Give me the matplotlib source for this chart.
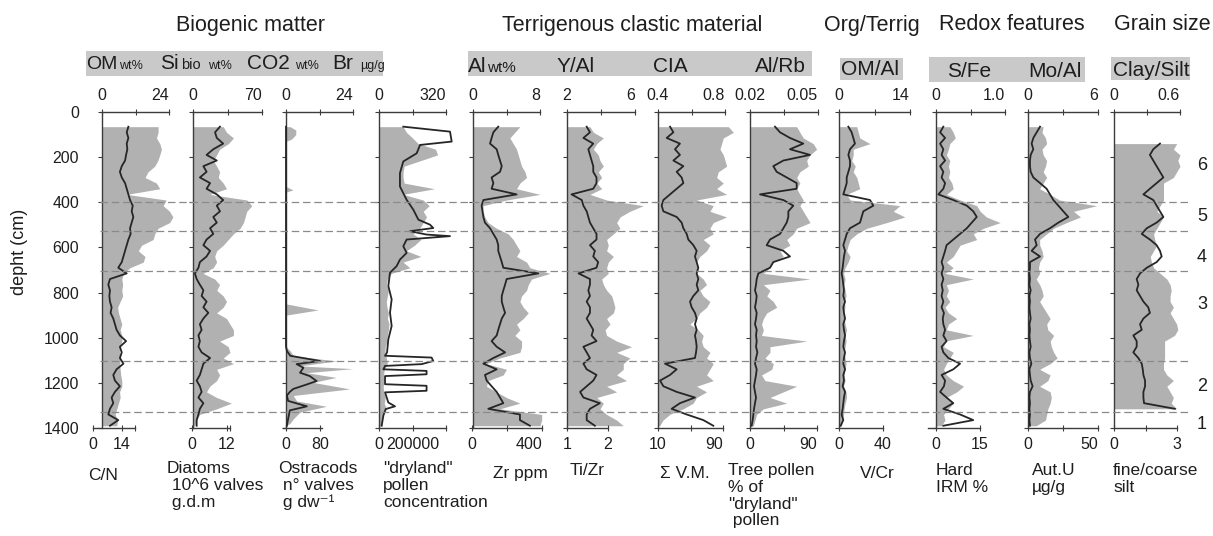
import matplotlib
matplotlib.use("Agg")
import matplotlib.pyplot as plt
from matplotlib.patches import Rectangle
import matplotlib.transforms as mtransforms

plt.rcParams['font.family'] = ['Liberation Sans', 'DejaVu Sans']

# ---------------- data (depth in cm) ----------------
depth = [65, 90, 115, 140, 165, 190, 215, 240, 265, 290, 315, 340, 365, 390, 415, 440, 465, 490,
         515, 540, 565, 590, 615, 640, 665, 690, 715, 740, 765, 790, 815, 840, 865, 890, 915, 940,
         965, 990, 1015, 1040, 1065, 1090, 1115, 1140, 1165, 1190, 1215, 1240, 1265, 1290, 1315,
         1340, 1365, 1390]
depth_ticks = [0, 200, 400, 600, 800, 1000, 1200, 1400]
zone_bounds = [400, 527, 705, 1105, 1327]
zone_labels = ['6', '5', '4', '3', '2', '1']
zone_label_depths = [235, 465, 645, 855, 1215, 1385]

# Biogenic matter
om = [20.1, 20.1, 19.5, 20.7, 21.3, 20.7, 20.0, 18.9, 16.5, 15.4, 19.5, 20.7, 8.9, 23.0, 21.9, 24.2,
      25.4, 24.2, 20.1, 18.9, 18.3, 14.2, 13.0, 15.4, 14.8, 10.0, 7.7, 7.1, 7.4, 7.1, 7.4, 6.5, 5.6,
      5.9, 6.5, 7.1, 6.5, 7.1, 7.1, 6.5, 6.3, 6.7, 6.3, 6.5, 6.7, 7.1, 7.1, 6.3, 6.5, 5.9, 5.3, 4.7,
      5.6, 5.3]
cn = [17.1, 16.3, 17.1, 16.3, 16.6, 16.0, 15.5, 13.9, 13.0, 13.9, 15.5, 16.3, 17.1, 17.9, 19.2, 18.7,
      19.5, 18.7, 17.9, 18.2, 17.1, 16.3, 15.5, 14.7, 13.9, 12.2, 16.3, 8.2, 7.4, 8.2, 7.9, 8.2, 9.0,
      8.5, 9.8, 10.6, 11.4, 13.0, 16.0, 13.0, 13.9, 13.0, 14.7, 11.4, 9.8, 10.6, 13.0, 10.6, 9.0, 9.8,
      8.2, 7.4, 12.2, 8.2]
si_bio = [30.7, 34, 41, 36, 27, 24, 20.5, 24, 27, 25.6, 30.7, 34, 17, 54.6, 59.7, 54.6, 52.9, 51.2,
          47.8, 41, 35.8, 30.7, 24, 22, 24, 20.5, 10.2, 22, 27, 24, 30.7, 34, 30.7, 24, 34, 37.5, 41,
          41, 27, 35.8, 37.5, 30.7, 41, 24, 27, 24, 17, 13.7, 24, 39, 24, 6.8, 3.4, 1.7]
diatoms = [9.6, 7.9, 8.5, 10.7, 7.3, 5.0, 8.5, 3.9, 5.0, 2.7, 6.2, 5.0, 8.5, 10.7, 8.5, 9.6, 7.3, 8.5,
           6.2, 7.3, 5.0, 3.9, 6.2, 5.0, 2.7, 2.2, 1.0, 1.6, 2.7, 3.9, 3.3, 5.0, 3.9, 5.6, 3.9, 2.7,
           3.3, 2.2, 2.7, 2.2, 3.3, 6.2, 3.9, 3.3, 2.7, 1.6, 2.7, 3.3, 2.2, 3.9, 2.7, 2.2, 1.6, 1.6]
co2_depth = [65, 80, 100, 120, 130, 330, 345, 355, 850, 877, 900, 1040, 1058, 1080, 1103, 1125, 1137,
             1155, 1176, 1198, 1227, 1256, 1280, 1304, 1330, 1360, 1380, 1390]
co2 = [1.5, 3.5, 3.5, 2.0, 0, 0, 2.5, 0, 0, 11.5, 0, 0, 1.5, 2.6, 18.0, 5.0, 24.0, 7.4, 18.0, 9.7,
       22.8, 2.6, 3.8, 14.5, 5.0, 2.6, 1.4, 0]
ost_depth = [65, 1040, 1058, 1080, 1103, 1117, 1133, 1155, 1170, 1192, 1207, 1227, 1240, 1256, 1280,
             1304, 1322, 1360, 1390]
ostracods = [0, 0, 2, 10, 80, 25, 41, 33, 56, 72, 49, 17, 9, 2, 5, 49, 9, 5, 2]
br = [115, 131, 160, 187, 270, 280, 200, 120, 115, 115, 120, 265, 115, 211, 240, 211, 227, 211, 195,
      163, 200, 170, 131, 200, 115, 147, 59, 40, 35, 45, 40, 35, 38, 45, 40, 48, 45, 40, 38, 30, 28,
      35, 40, 25, 22, 25, 20, 22, 30, 25, 35, 20, 15, 12]
pol_depth = [65, 87, 131, 146, 183, 219, 271, 330, 389, 433, 477, 499, 514, 528, 543, 550, 565, 595,
             624, 654, 683, 712, 771, 830, 889, 948, 1007, 1065, 1080, 1088, 1103, 1117, 1125, 1140,
             1147, 1162, 1170, 1206, 1213, 1235, 1242, 1287, 1304, 1316, 1345, 1390]
dryland_pollen = [145000, 424000, 434000, 245000, 225000, 145000, 125000, 125000, 165000, 205000,
                  235000, 304000, 324000, 185000, 284000, 424000, 165000, 145000, 165000, 125000,
                  105000, 65700, 55700, 75600, 65700, 75600, 55700, 48000, 36000, 314000, 324000,
                  255000, 36000, 26000, 284000, 284000, 36000, 36000, 284000, 284000, 36000, 55700,
                  95500, 40000, 26000, 16000]

# Terrigenous clastic material
al = [5.6, 5.0, 4.4, 4.8, 5.2, 5.4, 5.6, 5.8, 6.2, 6.4, 5.6, 5.2, 8.0, 4.0, 1.2, 1.2, 1.4, 1.8, 2.8,
      4.2, 4.8, 5.2, 5.6, 5.2, 6.4, 6.8, 9.2, 7.0, 6.6, 6.4, 5.8, 5.6, 6.0, 6.6, 6.0, 5.2, 5.6, 5.0,
      5.8, 5.8, 5.6, 3.2, 1.6, 4.0, 3.6, 1.8, 1.6, 2.8, 4.0, 5.6, 3.2, 8.2, 8.2, 8.0]
zr = [150, 122, 112, 103, 141, 150, 160, 170, 160, 112, 122, 112, 255, 65, 55, 60, 65, 74, 103, 122,
      141, 150, 150, 160, 170, 179, 379, 198, 189, 179, 170, 170, 179, 189, 170, 160, 150, 141, 112,
      141, 189, 122, 65, 141, 74, 84, 112, 141, 160, 179, 93, 274, 274, 331]
y_al = [3.35, 3.55, 4.14, 3.75, 3.55, 3.84, 3.94, 4.14, 3.84, 4.04, 3.75, 4.04, 3.35, 4.33, 6.49, 5.7,
        5.12, 4.92, 5.12, 4.73, 4.33, 4.43, 4.33, 4.73, 4.43, 4.33, 4.43, 4.04, 4.14, 4.33, 4.63, 4.73,
        4.82, 4.73, 4.33, 4.53, 4.24, 4.33, 4.92, 5.8, 4.92, 5.7, 5.31, 5.31, 4.92, 5.51, 4.33, 4.92,
        3.75, 4.14, 3.94, 4.33, 4.92, 5.31]
ti_zr = [1.48, 1.56, 1.40, 1.64, 1.52, 1.56, 1.60, 1.64, 1.64, 1.72, 1.72, 1.64, 1.11, 1.36, 1.40,
         1.48, 1.52, 1.56, 1.64, 1.72, 1.72, 1.56, 1.68, 1.64, 1.76, 1.72, 1.28, 1.56, 1.56, 1.52,
         1.56, 1.48, 1.56, 1.56, 1.48, 1.56, 1.64, 1.60, 1.72, 1.40, 1.48, 1.56, 1.40, 1.48, 1.72,
         1.64, 1.48, 1.32, 1.40, 1.80, 1.56, 1.48, 1.48, 1.68]
cia = [0.82, 0.85, 0.79, 0.78, 0.77, 0.79, 0.80, 0.81, 0.76, 0.75, 0.79, 0.75, 0.81, 0.63, 0.73, 0.71,
       0.81, 0.73, 0.71, 0.73, 0.67, 0.71, 0.69, 0.65, 0.63, 0.64, 0.63, 0.67, 0.69, 0.65, 0.67, 0.71,
       0.69, 0.65, 0.63, 0.59, 0.64, 0.67, 0.66, 0.67, 0.71, 0.69, 0.73, 0.71, 0.69, 0.73, 0.63, 0.69,
       0.63, 0.61, 0.55, 0.47, 0.43, 0.41]
sum_vm = [24.8, 28.9, 20.7, 37.0, 30.9, 37.0, 28.9, 41.2, 33.0, 39.1, 41.2, 33.0, 24.8, 16.6, 14.5,
          16.6, 33.0, 39.1, 41.2, 45.3, 47.3, 53.5, 57.6, 55.5, 57.6, 59.6, 57.6, 59.6, 57.6, 59.6,
          53.5, 49.4, 51.4, 55.5, 57.6, 55.5, 57.6, 55.5, 56.8, 57.6, 56.8, 55.5, 18.6, 33.0, 24.8,
          12.5, 16.6, 33.0, 55.5, 37.0, 26.8, 45.3, 65.8, 78.1]
al_rb = [0.0406, 0.042, 0.0435, 0.0479, 0.0494, 0.0465, 0.045, 0.0457, 0.042, 0.0406, 0.042, 0.0406,
         0.042, 0.0435, 0.042, 0.0435, 0.045, 0.0465, 0.0406, 0.0391, 0.0362, 0.0376, 0.0332, 0.0347,
         0.0303, 0.0288, 0.0259, 0.0465, 0.0259, 0.0288, 0.0274, 0.0303, 0.0318, 0.0274, 0.0259,
         0.0251, 0.0259, 0.0251, 0.045, 0.0288, 0.0288, 0.0266, 0.0303, 0.0296, 0.0251, 0.0266,
         0.0406, 0.0347, 0.0288, 0.0362, 0.0259, 0.0229, 0.0222, 0.0215]
tree_pollen = [33.6, 40.3, 53.7, 71.6, 53.7, 80.6, 44.8, 31.3, 35.8, 49.3, 62.7, 62.7, 13.4, 44.8,
               58.2, 51.5, 51.5, 49.3, 44.8, 40.3, 26.9, 22.4, 44.8, 53.7, 31.3, 26.9, 11.2, 9.0,
               8.1, 6.7, 9.0, 8.1, 6.7, 9.0, 8.1, 6.7, 9.0, 8.1, 9.0, 8.1, 9.9, 8.1, 6.7, 9.0, 8.1,
               6.7, 5.4, 6.7, 8.1, 6.7, 5.4, 4.5, 3.6, 2.2]

# Org/Terrig
om_al = [3.5, 3.8, 4.1, 6.1, 2.8, 2.8, 2.5, 3.2, 2.8, 3.5, 3.8, 4.1, 1.5, 2.2, 12.0, 10.7, 13.0, 9.4,
         5.5, 3.5, 2.2, 1.8, 1.5, 2.2, 1.8, 1.2, 0.9, 1.2, 1.0, 1.2, 1.4, 1.0, 1.2, 0.9, 1.0, 1.2, 1.5,
         1.2, 1.4, 1.2, 1.0, 1.2, 1.4, 1.2, 1.0, 1.2, 0.9, 1.4, 1.5, 1.2, 1.0, 0.9, 0.7, 0.5]
v_cr = [8.5, 11.5, 13.0, 14.5, 10.0, 8.5, 10.0, 10.0, 8.5, 7.0, 7.0, 5.5, 3.9, 28.2, 31.2, 22.1, 20.6,
        19.1, 10.0, 7.0, 5.5, 3.9, 5.5, 4.5, 3.9, 3.3, 2.4, 3.3, 3.9, 4.5, 3.9, 5.5, 3.9, 4.5, 5.5, 3.9,
        4.5, 5.5, 4.5, 3.9, 5.5, 4.5, 3.9, 5.5, 3.9, 4.5, 3.3, 5.5, 4.5, 3.9, 3.3, 2.4, 3.9, 1.5]

# Redox features
s_fe = [0.20, 0.25, 0.28, 0.20, 0.18, 0.15, 0.20, 0.18, 0.20, 0.18, 0.23, 0.25, 0.15, 0.35, 0.59,
        0.64, 0.73, 0.93, 0.69, 0.54, 0.59, 0.35, 0.30, 0.25, 0.15, 0.25, 0.13, 0.54, 0.15, 0.18,
        0.15, 0.20, 0.13, 0.18, 0.30, 0.18, 0.15, 0.54, 0.13, 0.11, 0.25, 0.20, 0.15, 0.11, 0.15,
        0.25, 0.40, 0.30, 0.15, 0.25, 0.18, 0.11, 0.13, 0.08]
hard_irm = [2.5, 1.4, 3.1, 1.4, 2.5, 1.9, 3.1, 1.4, 2.5, 1.9, 3.1, 2.5, 0.8, 5.9, 10.5, 12.7, 13.9,
            12.2, 10.5, 8.2, 5.9, 3.6, 3.1, 2.5, 1.9, 2.5, 1.9, 2.5, 1.9, 2.3, 1.9, 2.5, 1.9, 2.7, 2.3,
            2.5, 3.1, 2.5, 3.6, 1.9, 2.5, 4.2, 8.2, 5.9, 1.9, 3.1, 2.7, 1.4, 3.6, 5.9, 2.5, 8.2, 12.7,
            2.5]
mo_al = [1.3, 1.2, 1.5, 1.6, 1.2, 1.3, 1.6, 1.5, 1.3, 1.6, 1.3, 1.0, 1.9, 2.7, 5.9, 3.9, 4.5, 3.3, 2.2,
         1.6, 1.0, 1.0, 1.2, 1.3, 1.0, 0.9, 1.0, 0.7, 1.0, 1.2, 1.3, 1.0, 1.3, 1.6, 1.9, 1.6, 1.7, 2.2,
         1.9, 2.0, 2.2, 2.5, 1.9, 1.0, 1.9, 1.7, 1.0, 1.9, 2.0, 1.9, 1.7, 1.6, 1.5, 0.7]
aut_u = [8.6, 6.2, 3.8, 2.6, 3.8, 1.9, 1.4, 1.4, 1.9, 3.8, 8.6, 13.3, 15.7, 18.1, 21.7, 25.2, 28.8,
         21.7, 15.7, 8.6, 5.0, 6.2, 2.6, 8.6, 1.4, 1.4, 1.0, 1.4, 1.0, 1.9, 1.0, 1.4, 1.0, 1.4, 1.9,
         1.0, 1.4, 1.0, 1.4, 1.9, 1.0, 1.4, 2.4, 1.0, 1.4, 1.9, 3.3, 1.4, 1.0, 1.4, 1.0, 1.4, 1.0, 1.4]

# Grain size
gs_depth = [140, 165, 190, 215, 240, 265, 290, 315, 340, 365, 390, 415, 440, 465, 490, 515, 540, 565,
            590, 615, 640, 665, 690, 715, 740, 765, 790, 815, 840, 865, 890, 915, 940, 965, 990, 1015,
            1040, 1065, 1090, 1115, 1140, 1165, 1190, 1215, 1240, 1265, 1290, 1315]
clay_silt = [0.57, 0.54, 0.60, 0.58, 0.60, 0.57, 0.54, 0.45, 0.45, 0.45, 0.45, 0.42, 0.39, 0.45, 0.42,
             0.39, 0.36, 0.37, 0.39, 0.36, 0.33, 0.34, 0.36, 0.42, 0.48, 0.51, 0.52, 0.51, 0.51, 0.54,
             0.51, 0.54, 0.57, 0.58, 0.55, 0.46, 0.46, 0.46, 0.46, 0.45, 0.45, 0.48, 0.54, 0.48, 0.51,
             0.54, 0.52, 0.57]
fine_coarse = [2.19, 1.87, 1.71, 1.87, 2.03, 2.19, 2.35, 2.03, 1.71, 1.40, 1.87, 2.03, 2.19, 2.35, 2.03,
               1.56, 1.32, 1.71, 2.03, 2.19, 2.27, 2.03, 1.56, 1.24, 1.08, 1.16, 1.08, 1.24, 1.40, 1.63,
               1.71, 1.40, 1.24, 1.32, 0.92, 1.08, 1.08, 0.92, 1.16, 1.32, 1.37, 1.40, 1.48, 1.48, 1.40,
               1.40, 1.43, 2.9]

# ---------------- layout / style ----------------
W, H = 1213, 536
Y_TOP, Y_BOT = 112, 428
FILL = '#b1b1b1'
LINE = '#262626'
AXC = '#3c3c3c'
TXT = '#1e1e1e'
BAND = '#c9c9c9'

fig = plt.figure(figsize=(W / 100, H / 100), dpi=100)
fig.patch.set_facecolor('white')


def box(x0, x1):
    return [x0 / W, 1 - Y_BOT / H, (x1 - x0) / W, (Y_BOT - Y_TOP) / H]


C3 = ['center', 'center', 'right']
panels = [
    dict(top=(102, 169, (0, 24), [0, 12, 24], ['0', '', '24']),
         bot=(93, 135, (0, 20.3), [0, 14, 20.3], ['0', '14', ''], C3),
         fd=depth, fv=om, base=0, ld=depth, lv=cn),
    dict(top=(193, 262, (0, 70), [0, 35, 70], ['0', '', '70']),
         bot=(192, 230, (0, 13.03), [0, 12, 13.03], ['0', '12', ''], C3),
         fd=depth, fv=si_bio, base=0, ld=depth, lv=diatoms),
    dict(top=(286, 353, (0, 24), [0, 12, 24], ['0', '', '24']),
         bot=(283, 322, (-7.06, 84.7), [0, 80], ['0', '80'], ['center', 'center']),
         fd=co2_depth, fv=co2, base=0, ld=ost_depth, lv=ostracods),
    dict(top=(379, 446, (0, 320), [0, 160, 320], ['0', '', '320']),
         bot=(379, 446, (0, 400000), [0, 200000, 400000], ['0', '200000', ''], C3),
         fd=depth, fv=br, base=0, ld=pol_depth, lv=dryland_pollen),
    dict(top=(473, 540, (0, 8), [0, 4, 8], ['0', '', '8']),
         bot=(472, 542, (0, 400), [0, 200, 400], ['0', '', '400'], C3),
         fd=depth, fv=al, base=0, ld=depth, lv=zr),
    dict(top=(567, 635, (2, 6), [2, 4, 6], ['2', '', '6']),
         bot=(567, 608, (1, 2), [1, 2], ['1', '2'], ['center', 'center']),
         fd=depth, fv=y_al, base=2, ld=depth, lv=ti_zr),
    dict(top=(658, 725, (0.4, 0.8), [0.4, 0.6, 0.8], ['0.4', '', '0.8']),
         bot=(658, 723, (10, 90), [10, 50, 90], ['10', '', '90'], C3),
         fd=depth, fv=cia, base=0.4, ld=depth, lv=sum_vm),
    dict(top=(750, 818, (0.02, 0.05), [0.02, 0.035, 0.05], ['0.02', '', '0.05']),
         bot=(750, 817, (0, 90), [0, 45, 90], ['0', '', '90'], C3),
         fd=depth, fv=al_rb, base=0.02, ld=depth, lv=tree_pollen),
    dict(top=(839, 910, (0, 14), [0, 7, 14], ['0', '', '14']),
         bot=(839, 883, (0, 40), [0, 40], ['0', '40'], ['center', 'center']),
         fd=depth, fv=om_al, base=0, ld=depth, lv=v_cr),
    dict(top=(936, 1005, (0, 1.0), [0, 0.5, 1.0], ['0', '', '1.0']),
         bot=(928, 980, (-2.73, 15), [0, 15], ['0', '15'], ['center', 'center']),
         fd=depth, fv=s_fe, base=0, ld=depth, lv=hard_irm),
    dict(top=(1028, 1098, (0, 6), [0, 3, 6], ['0', '', '6']),
         bot=(1028, 1098, (0, 50), [0, 25, 50], ['0', '', '50'], C3),
         fd=depth, fv=mo_al, base=0, ld=depth, lv=aut_u),
    dict(top=(1114, 1180, (0, 0.6), [0, 0.3, 0.6], ['0', '', '0.6']),
         bot=(1114, 1177, (0, 3), [0, 1.5, 3], ['0', '', '3'], ['center', 'center', 'center']),
         fd=gs_depth, fv=clay_silt, base=0, ld=gs_depth, lv=fine_coarse),
]

for i, p in enumerate(panels):
    tx0, tx1, tlim, tticks, tlabels = p['top']
    ax = fig.add_axes(box(tx0, tx1))
    ax.set_facecolor('none')
    ax.set_xlim(*tlim)
    ax.set_ylim(1400, 0)
    ax.fill_betweenx(p['fd'], p['base'], p['fv'], color=FILL, lw=0, clip_on=False, zorder=1)
    ax.spines['right'].set_visible(False)
    ax.spines['bottom'].set_visible(False)
    for s in ('top', 'left'):
        ax.spines[s].set_color(AXC)
        ax.spines[s].set_linewidth(1.0)
        ax.spines[s].set_zorder(3)
    ax.xaxis.tick_top()
    ax.set_xticks(tticks)
    ax.set_xticklabels(tlabels)
    ax.tick_params(axis='x', direction='inout', length=5, width=0.8, color=AXC,
                   labelcolor=TXT, labelsize=11.5, pad=4)
    for lbl, ha in zip(ax.get_xticklabels(), C3):
        lbl.set_horizontalalignment(ha)
    ax.set_yticks(depth_ticks)
    if i == 0:
        ax.set_yticklabels([str(d) for d in depth_ticks])
    else:
        ax.set_yticklabels([])
    ax.tick_params(axis='y', direction='out', length=3, width=0.8, color=AXC,
                   labelcolor=TXT, labelsize=11.5, pad=13.5)

    bx0, bx1, blim, bticks, blabels, bhas = p['bot']
    lx = fig.add_axes(box(bx0, bx1))
    lx.set_facecolor('none')
    lx.set_xlim(*blim)
    lx.set_ylim(1400, 0)
    lx.plot(p['lv'], p['ld'], color=LINE, lw=1.3, clip_on=False, solid_joinstyle='round', zorder=2)
    for s in ('top', 'left', 'right'):
        lx.spines[s].set_visible(False)
    lx.spines['bottom'].set_color(AXC)
    lx.spines['bottom'].set_linewidth(1.0)
    lx.set_yticks([])
    lx.set_xticks(bticks)
    lx.set_xticklabels(blabels)
    lx.tick_params(axis='x', direction='inout', length=5, width=0.8, color=AXC,
                   labelcolor=TXT, labelsize=11.5, pad=4)
    for lbl, ha in zip(lx.get_xticklabels(), bhas):
        lbl.set_horizontalalignment(ha)

# dashed zone boundaries and zone numbers
ov = fig.add_axes(box(100, 1190))
ov.set_xlim(0, 1)
ov.set_ylim(1400, 0)
ov.axis('off')
for z in zone_bounds:
    ov.axhline(z, color='#8a8a8a', lw=0.9, ls=(0, (6, 3)))
tr = mtransforms.blended_transform_factory(fig.transFigure, ov.transData)
for lab, d in zip(zone_labels, zone_label_depths):
    fig.text(1202 / W, d, lab, transform=tr, ha='center', va='center', fontsize=13, color=TXT)

# depth axis label
fig.text(19 / W, 1 - 252 / H, 'depht (cm)', rotation=90, ha='center', va='center',
         fontsize=13, color=TXT)


def ftxt(x, y, s, **kw):
    kw.setdefault('color', TXT)
    fig.text(x / W, 1 - y / H, s, **kw)


# group titles
for s, xc in [('Biogenic matter', 250), ('Terrigenous clastic material', 632),
              ('Org/Terrig', 872), ('Redox features', 1012), ('Grain size', 1162)]:
    ftxt(xc, 25, s, ha='center', va='center', fontsize=15.5)

# grey header bands
for x0, x1, y0, y1 in [(86, 383, 51, 76), (468, 812, 51, 76), (840, 903, 58, 80),
                       (929, 1085, 57, 82), (1111, 1190, 57, 80)]:
    fig.patches.append(Rectangle((x0 / W, 1 - y1 / H), (x1 - x0) / W, (y1 - y0) / H,
                                 transform=fig.transFigure, facecolor=BAND, edgecolor='none',
                                 zorder=0))

band_items = [
    ('OM', 86, 69, 14), ('wt%', 119, 69, 9), ('Si', 160, 69, 15), ('bio', 181, 69, 10.5),
    ('wt%', 208, 69, 9), ('CO2', 247, 69, 15), ('wt%', 295, 69, 9), ('Br', 332, 69, 15),
    ('µg/g', 360, 69, 9),
    ('Al', 468, 72, 15), ('wt%', 487, 72, 11), ('Y/Al', 557, 72, 15), ('CIA', 653, 72, 15),
    ('Al/Rb', 755, 72, 15),
    ('OM/Al', 841, 75, 15),
    ('S/Fe', 947, 77, 15), ('Mo/Al', 1028, 77, 15),
    ('Clay/Silt', 1113, 76, 15),
]
for s, x, y, fs in band_items:
    ftxt(x, y, s, ha='left', va='baseline', fontsize=fs)

# bottom variable labels
bottom_labels = [
    ('C/N', 88, 468), ('Diatoms\n 10^6 valves\n g.d.m', 167, 461),
    ('Ostracods\n n° valves\n g dw⁻¹', 278, 461), ('"dryland"\npollen\nconcentration', 383, 461),
    ('Zr ppm', 493, 466), ('Ti/Zr', 570, 463), ('Σ V.M.', 660, 466),
    ('Tree pollen\n% of\n"dryland"\n pollen', 728, 463), ('V/Cr', 860, 466),
    ('Hard\nIRM %', 936, 463), ('Aut.U\nµg/g', 1032, 463), ('fine/coarse\nsilt', 1113, 463),
]
for s, x, y in bottom_labels:
    ftxt(x, y, s, ha='left', va='top', fontsize=12.5, linespacing=1.15)

fig.savefig('out.png', dpi=100, facecolor='white')
